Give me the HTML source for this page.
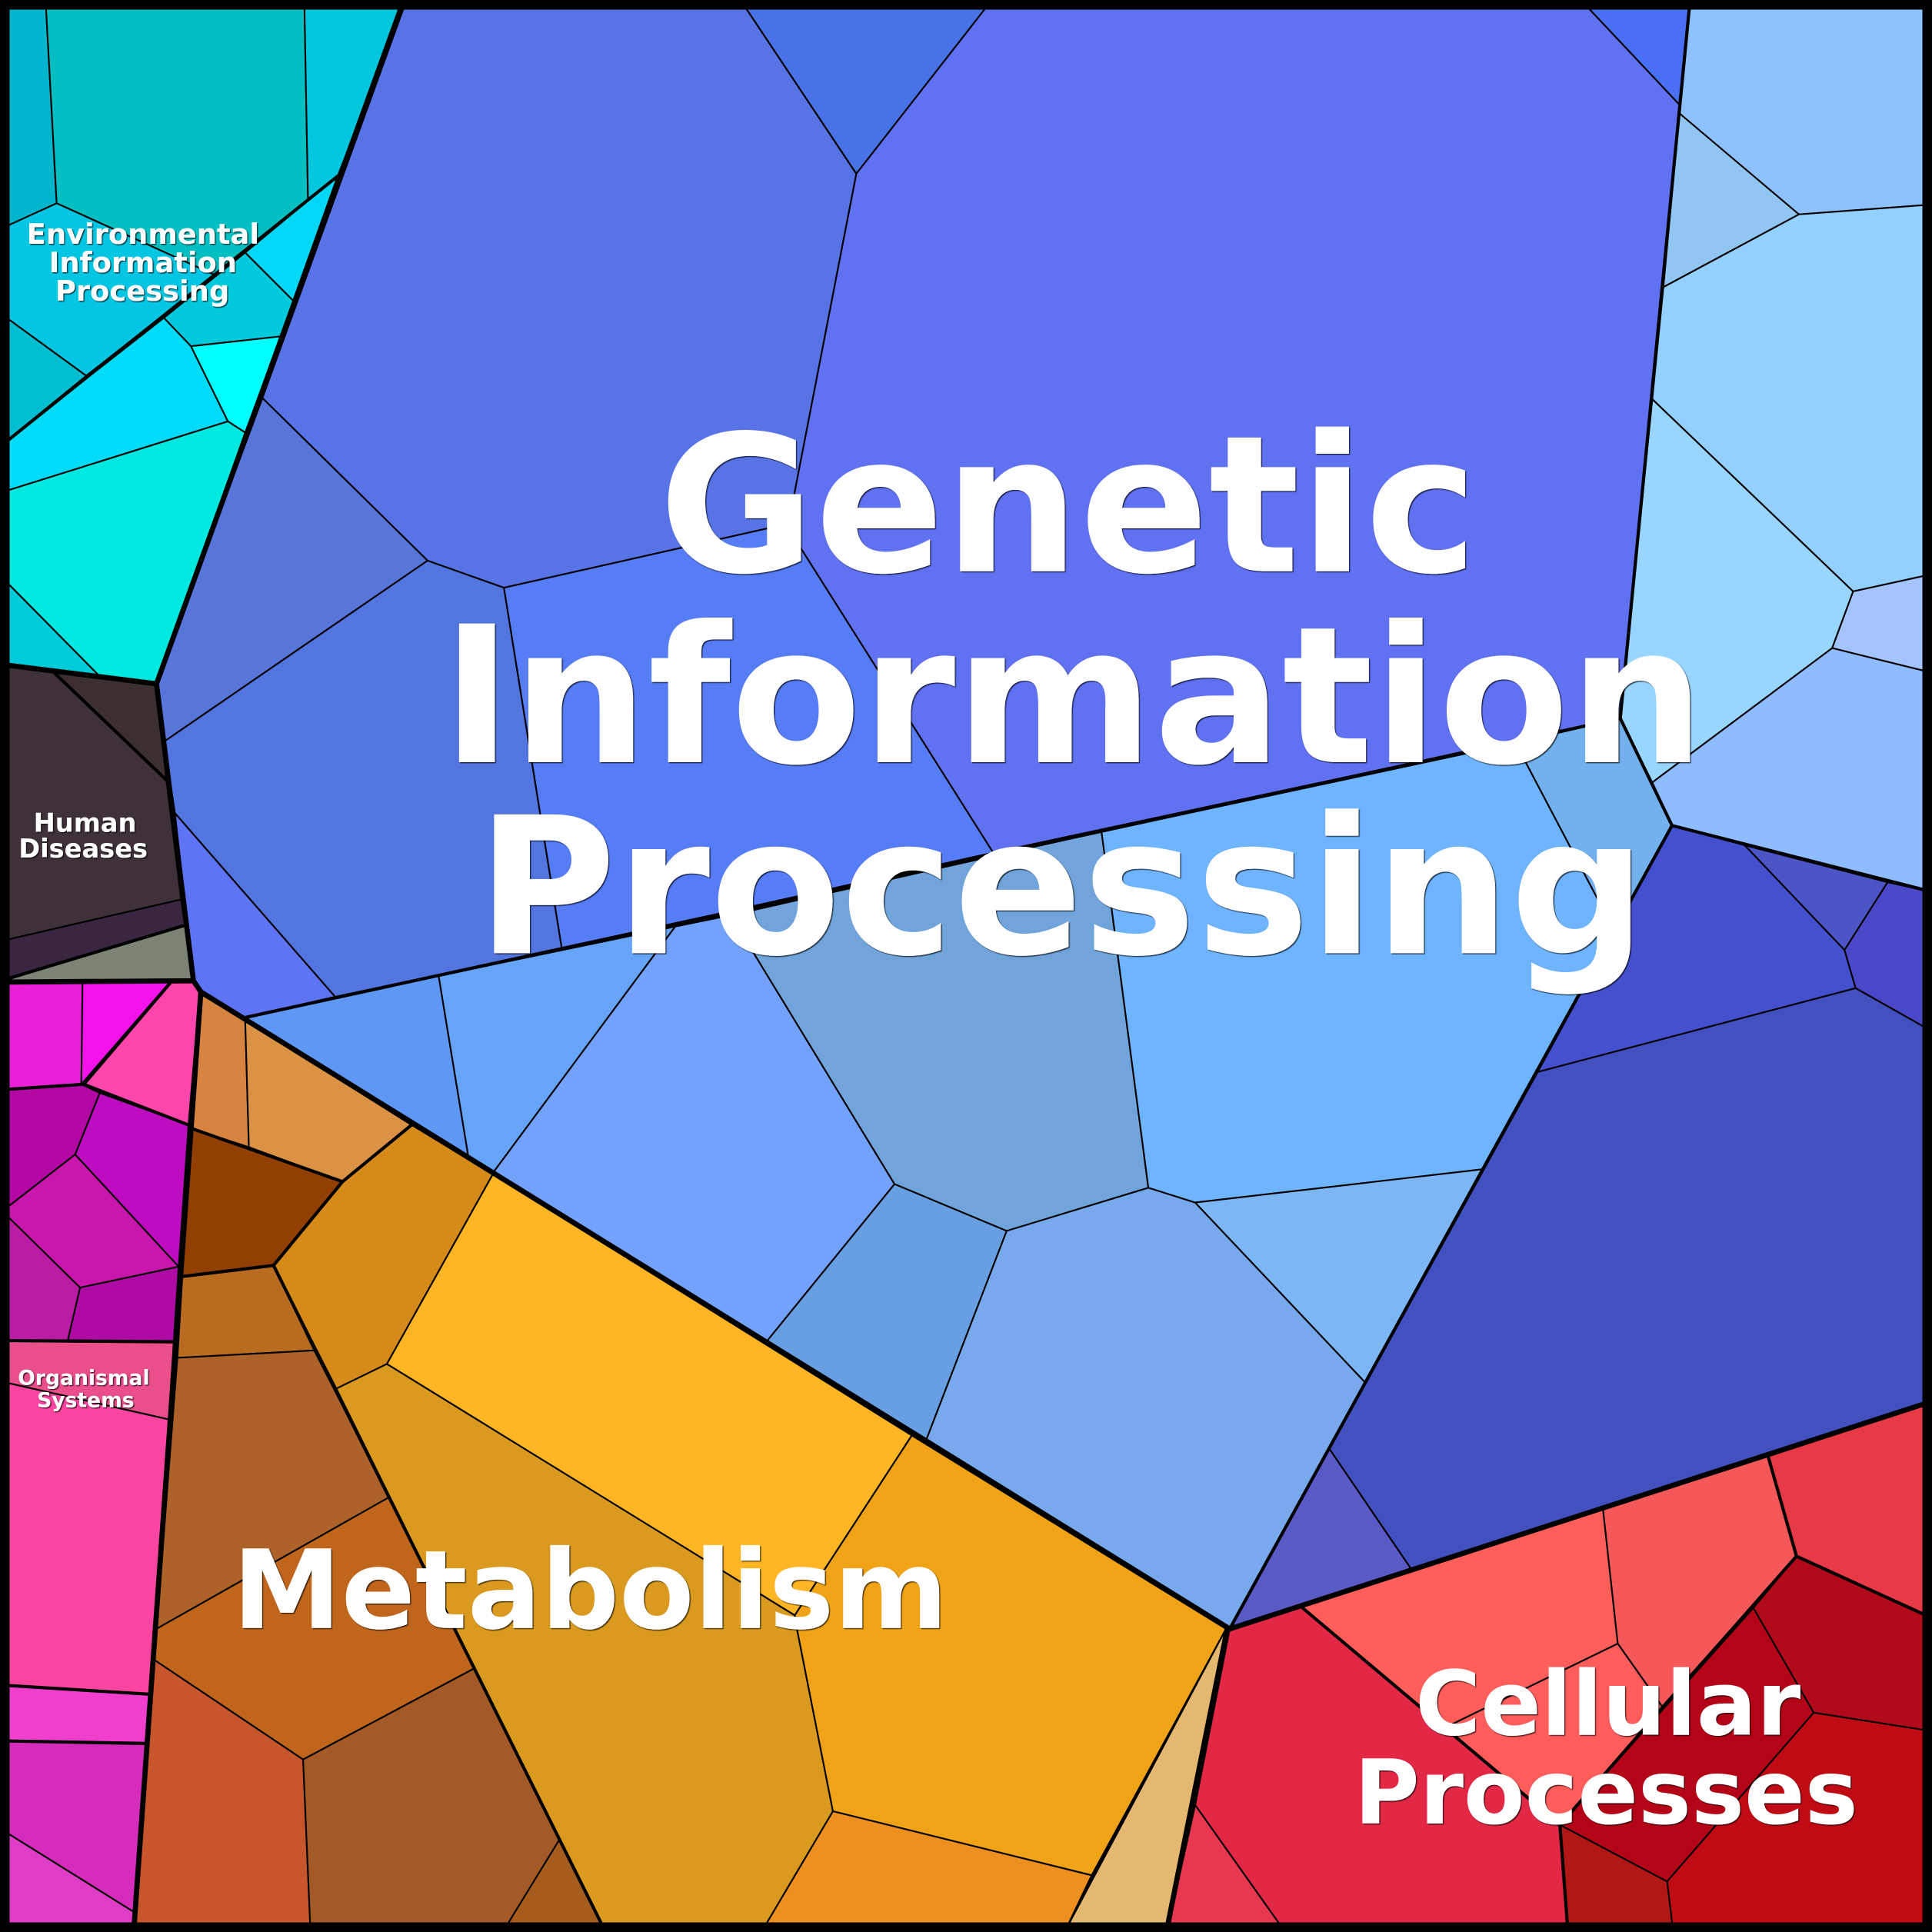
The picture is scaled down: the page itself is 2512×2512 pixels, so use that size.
<!DOCTYPE html>
<html><head><meta charset="utf-8"><style>
html,body{margin:0;padding:0;background:#000;overflow:hidden}
svg{display:block}
text{font-family:"DejaVu Sans","Liberation Sans",sans-serif;font-weight:bold;fill:#fff;text-anchor:middle}
</style></head><body>
<svg xmlns="http://www.w3.org/2000/svg" width="2512" height="2512" viewBox="0 0 1568 1568">
<defs><filter id="s" x="-5%" y="-5%" width="110%" height="110%"><feDropShadow dx="0.8" dy="0.8" stdDeviation="0.3" flood-color="#000" flood-opacity="0.75"/></filter></defs>
<g stroke="#000" stroke-width="1.3" stroke-linejoin="round">
<!-- environmental -->
<polygon fill="#00b5cc" points="0,0 37,0 46,165 0,186"/>
<polygon fill="#04bfc2" points="37,0 247,0 250,163 174,223 46,165"/>
<polygon fill="#00c6de" points="247,0 330,0 274,143 250,163"/>
<polygon fill="#04c5e2" points="46,165 174,223 70,305 0,254 0,186"/>
<polygon fill="#01bfd0" points="0,254 70,305 0,362"/>
<polygon fill="#00c9dc" points="199,205 238,244 228,273 155,281 133,258"/>
<polygon fill="#02d8f6" points="199,205 274,143 238,244"/>
<polygon fill="#00dcf8" points="0,362 133,258 155,281 185,342 0,400"/>
<polygon fill="#00ffff" points="155,281 228,273 199,351 185,342"/>
<polygon fill="#00e9e0" points="0,400 185,342 199,351 127,555 80,548 0,467"/>
<polygon fill="#00ccd9" points="0,467 80,548 0,540"/>
<!-- human diseases -->
<polygon fill="#3c2f2f" points="44,546 127,555 135,633"/>
<polygon fill="#3f313a" points="0,540 44,546 135,633 147,730 0,764"/>
<polygon fill="#3b2642" points="0,764 147,730 150,751 0,796"/>
<polygon fill="#7a8374" points="0,797 150,751 157,796"/>
<!-- organismal -->
<polygon fill="#ea20d8" points="0,797 67,797 66,880 0,885"/>
<polygon fill="#f412ea" points="67,797 138,797 66,880"/>
<polygon fill="#fc46ac" points="138,797 160,797 162,806 153,913 66,880"/>
<polygon fill="#b408a4" points="0,885 66,880 81,887 61,937 7,979 0,979"/>
<polygon fill="#be0cc0" points="81,887 153,913 145,1028 61,937"/>
<polygon fill="#c916ac" points="61,937 145,1028 65,1045 7,988 7,979"/>
<polygon fill="#ba1ca4" points="7,988 65,1045 55,1088 0,1088 0,988"/>
<polygon fill="#ae0aa4" points="65,1045 145,1028 141,1089 55,1088"/>
<polygon fill="#ea4f8c" points="0,1088 141,1089 137,1152 0,1121"/>
<polygon fill="#fb45a0" points="0,1121 137,1152 121,1375 0,1368"/>
<polygon fill="#f03fcc" points="0,1368 121,1375 119,1415 0,1413"/>
<polygon fill="#d62cbc" points="0,1413 119,1415 109,1552 0,1484"/>
<polygon fill="#de3ec6" points="0,1484 109,1552 108,1568 0,1568"/>
<!-- metabolism -->
<polygon fill="#d6843f" points="163,807 199,828 202,931 156,916"/>
<polygon fill="#db9245" points="199,828 334,913 278,959 202,931"/>
<polygon fill="#913f02" points="156,916 278,959 222,1027 148,1036"/>
<polygon fill="#b96b20" points="148,1036 222,1027 255,1096 144,1102"/>
<polygon fill="#ac6228" points="144,1102 255,1096 316,1215 127,1322"/>
<polygon fill="#c0651c" points="127,1322 316,1215 385,1354 246,1428 125,1347"/>
<polygon fill="#c8562d" points="125,1347 246,1428 252,1568 108,1568"/>
<polygon fill="#a45a26" points="246,1428 385,1354 454,1493 412,1568 252,1568"/>
<polygon fill="#a55c1c" points="454,1493 492,1568 408,1568"/>
<polygon fill="#d58a1a" points="222,1027 278,959 334,913 400,953 314,1107 273,1127"/>
<polygon fill="#ffb524" points="400,953 740,1165 645,1311 314,1107"/>
<polygon fill="#d99a1f" points="314,1107 645,1311 647,1323 676,1470 618,1568 491,1568 273,1127"/>
<polygon fill="#f0a316" points="740,1165 995,1322 886,1522 676,1470 647,1323 645,1311"/>
<polygon fill="#ee9020" points="676,1470 886,1522 864,1568 618,1568"/>
<polygon fill="#e5b871" points="995,1322 947,1568 864,1568"/>
<!-- genetic top -->
<polygon fill="#5773e6" points="330,0 601,0 695,141 640,425 409,477 347,455 213,323"/>
<polygon fill="#4873e6" points="601,0 805,0 695,141"/>
<polygon fill="#6071f2" points="805,0 1283,0 1364,86 1315,583 806,692 650,445 640,425 695,141"/>
<polygon fill="#4970f4" points="1283,0 1371,0 1364,86"/>
<polygon fill="#5875da" points="213,323 347,455 133,602 127,555"/>
<polygon fill="#5275e0" points="133,602 347,455 409,477 456,770 272,809 142,660"/>
<polygon fill="#567cf6" points="409,477 640,425 650,445 806,692 456,770"/>
<polygon fill="#5d74f5" points="142,660 272,809 198,826 163,804 157,796"/>
<!-- light blue -->
<polygon fill="#5f98f4" points="198,826 356,792 380,938 334,913"/>
<polygon fill="#66a4f8" points="356,792 548,752 400,952 380,938"/>
<polygon fill="#72a2fc" points="548,752 592,743 612,774 726,961 622,1089 400,952"/>
<polygon fill="#70a4da" points="592,743 894,675 932,964 817,999 726,961 612,774"/>
<polygon fill="#6fb4fe" points="894,675 1230,603 1310,755 1203,949 970,976 932,964"/>
<polygon fill="#72b1ee" points="1230,603 1315,583 1357,670 1310,755"/>
<polygon fill="#689fe2" points="622,1089 726,961 817,999 752,1168"/>
<polygon fill="#77a9ec" points="817,999 932,964 970,976 1108,1122 998,1322 752,1168"/>
<polygon fill="#7cb6f4" points="970,976 1203,949 1108,1122"/>
<!-- dark blue -->
<polygon fill="#4450ce" points="1357,670 1416,686 1497,771 1506,802 1248,870"/>
<polygon fill="#4c55c6" points="1416,686 1532,716 1497,771"/>
<polygon fill="#4a48c8" points="1532,716 1568,724 1568,837 1506,802 1497,771"/>
<polygon fill="#4350c0" points="1248,870 1506,802 1568,837 1568,1138 1145,1273 1079,1176"/>
<polygon fill="#5a5ac6" points="1079,1176 1145,1273 998,1322"/>
<!-- right light -->
<polygon fill="#8dc2ff" points="1371,0 1568,0 1568,166 1460,174 1363,92"/>
<polygon fill="#92c6f2" points="1363,92 1460,174 1350,233"/>
<polygon fill="#93d0ff" points="1350,233 1460,174 1568,166 1568,466 1504,480 1341,324"/>
<polygon fill="#98d5ff" points="1341,324 1504,480 1487,526 1341,635 1315,583"/>
<polygon fill="#a3c4ff" points="1504,480 1568,466 1568,546 1487,526"/>
<polygon fill="#8ebcff" points="1487,526 1568,546 1568,724 1357,670 1341,635"/>
<!-- cellular -->
<polygon fill="#ff5e5a" points="1056,1304 1301,1225 1313,1334 1173,1402"/>
<polygon fill="#f55858" points="1301,1225 1435,1182 1458,1263 1349,1385 1313,1334"/>
<polygon fill="#ff5c5c" points="1313,1334 1349,1385 1266,1481 1173,1402"/>
<polygon fill="#e83a46" points="1435,1182 1568,1138 1568,1313 1458,1263"/>
<polygon fill="#b10a1a" points="1458,1263 1568,1313 1568,1405 1472,1390 1423,1305"/>
<polygon fill="#b40518" points="1423,1305 1472,1390 1353,1527 1266,1481"/>
<polygon fill="#c00b14" points="1472,1390 1568,1405 1568,1568 1358,1568 1353,1527"/>
<polygon fill="#b11714" points="1266,1481 1353,1527 1358,1568 1272,1568"/>
<polygon fill="#e32845" points="998,1322 1056,1304 1266,1481 1272,1568 1043,1568 970,1465"/>
<polygon fill="#e83850" points="970,1465 1043,1568 947,1568"/>
</g>
<g fill="none" stroke="#000" stroke-linejoin="round" stroke-linecap="round">
<g stroke-width="2.6">
<polyline points="7,357 274,143"/>
<polyline points="44,546 135,633"/>
<polyline points="7,794 150,751"/>
<polyline points="7,1088 141,1089"/>
<polyline points="7,1368 121,1375"/>
<polyline points="7,1413 119,1415"/>
<polyline points="138,798 68,880 7,884"/>
<polyline points="68,880 153,913"/>
<polyline points="156,916 278,959 334,913"/>
<polyline points="278,959 222,1027 148,1036"/>
<polyline points="222,1027 488,1561"/>
<polyline points="1056,1304 1266,1481 1458,1263 1561,1310"/>
<polyline points="1435,1182 1458,1263"/>
<polyline points="1266,1481 1272,1561"/>
<polyline points="198,826 1315,583"/>
<polyline points="1371,7 1315,583 1357,670 1561,722"/>
<polyline points="1357,670 998,1322"/>
</g>
<g stroke-width="4.2">
<polyline points="326,5 127,555 7,540"/>
<polyline points="127,555 157,796 7,797"/>
<polyline points="157,796 163,805 998,1322"/>
<polyline points="163,805 109,1561"/>
<polyline points="996,1322 948,1561"/>
<polyline points="998,1322 1563,1139"/>
</g>
</g>
<rect x="3.9" y="3.9" width="1560.2" height="1560.2" fill="none" stroke="#000" stroke-width="7.8"/>
<g filter="url(#s)">
<text font-size="154.500" x="867" y="463.6">Genetic</text>
<text font-size="154.500" x="871" y="618.6">Information</text>
<text font-size="154.500" x="861.500" y="773.6">Processing</text>
<text font-size="88.600" x="479" y="1321.3">Metabolism</text>
<text font-size="72.400" x="1305" y="1408">Cellular</text>
<text font-size="72.400" x="1303.500" y="1480">Processes</text>
<text font-size="23" x="116" y="198">Environmental</text>
<text font-size="23" x="116" y="221">Information</text>
<text font-size="23" x="115.500" y="244">Processing</text>
<text font-size="21" x="69" y="675">Human</text>
<text font-size="21" x="67.500" y="696">Diseases</text>
<text font-size="16.6" x="68" y="1124">Organismal</text>
<text font-size="16.6" x="69.500" y="1142">Systems</text>
</g>
</svg>
</body></html>
